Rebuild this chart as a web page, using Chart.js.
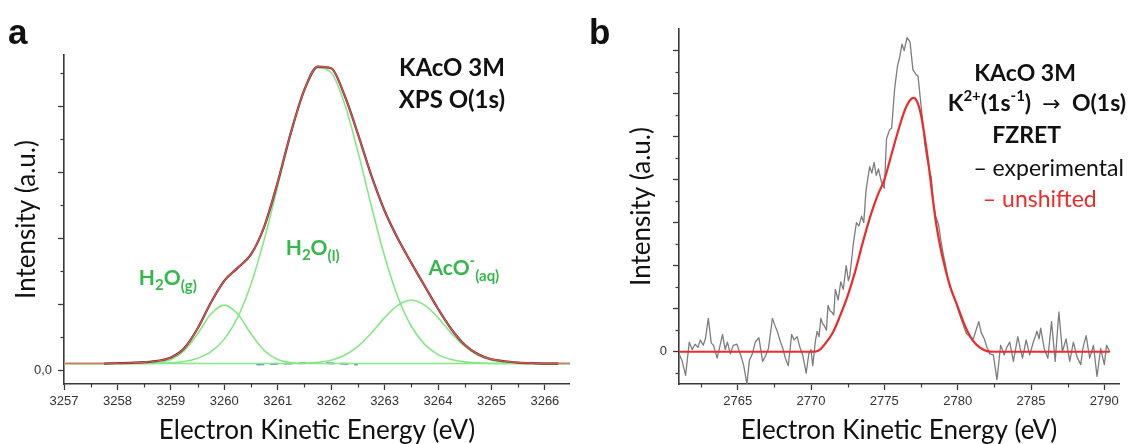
<!DOCTYPE html>
<html>
<head>
<meta charset="utf-8">
<script src="https://cdn.jsdelivr.net/npm/chart.js@4.4.0/dist/chart.umd.min.js"></script>
<style>
html, body { margin: 0; padding: 0; background: #fff; }
#wrap { position: relative; width: 1140px; height: 444px; }
.panel { position: absolute; top: 0; width: 570px; height: 444px; }
</style>
</head>
<body>
<div id="wrap">
  <div class="panel" style="left:0"><canvas id="chartA"></canvas></div>
  <div class="panel" style="left:570px"><canvas id="chartB"></canvas></div>
</div>
<script>
// ---- panel a : XPS O(1s) fit ----
const energyA = [3257, 3257.25, 3257.5, 3257.75, 3258, 3258.25, 3258.5, 3258.75, 3259, 3259.25,
  3259.5, 3259.75, 3260, 3260.25, 3260.5, 3260.75, 3261, 3261.25, 3261.5, 3261.75,
  3262, 3262.25, 3262.5, 3262.75, 3263, 3263.25, 3263.5, 3263.75, 3264, 3264.25,
  3264.5, 3264.75, 3265, 3265.25, 3265.5, 3265.75, 3266, 3266.25, 3266.5];
const fitA = [0.2, 0.2, 0.2, 0.2, 0.21, 0.22, 0.24, 0.28, 0.38, 0.66,
  1.26, 2.05, 2.71, 3.1, 3.51, 4.36, 5.7, 7.22, 8.5, 9.2,
  9.15, 8.33, 7.16, 5.91, 4.83, 3.98, 3.25, 2.55, 1.86, 1.24,
  0.77, 0.48, 0.33, 0.27, 0.23, 0.21, 0.2, 0.2, 0.2];
const waterGasA = [0.2, 0.2, 0.2, 0.2, 0.2, 0.2, 0.2, 0.23, 0.32, 0.59,
  1.1, 1.7, 1.97, 1.7, 1.1, 0.59, 0.32, 0.23, 0.2, 0.2,
  0.2, 0.2, 0.2, 0.2, 0.2, 0.2, 0.2, 0.2, 0.2, 0.2,
  0.2, 0.2, 0.2, 0.2, 0.2, 0.2, 0.2, 0.2, 0.2];
const waterLiqA = [0.2, 0.2, 0.2, 0.2, 0.2, 0.2, 0.2, 0.21, 0.22, 0.26,
  0.36, 0.56, 0.94, 1.6, 2.61, 3.97, 5.58, 7.19, 8.48, 9.16,
  9.02, 8.08, 6.63, 4.99, 3.45, 2.21, 1.33, 0.78, 0.47, 0.32,
  0.25, 0.22, 0.2, 0.2, 0.2, 0.2, 0.2, 0.2, 0.2];
const acetateA = [0.2, 0.2, 0.2, 0.2, 0.2, 0.2, 0.2, 0.2, 0.2, 0.2,
  0.2, 0.2, 0.2, 0.2, 0.2, 0.2, 0.2, 0.2, 0.21, 0.24,
  0.3, 0.45, 0.72, 1.12, 1.59, 1.97, 2.12, 1.97, 1.59, 1.12,
  0.72, 0.45, 0.3, 0.24, 0.21, 0.2, 0.2, 0.2, 0.2];
const residEnergyA = [3260.6, 3261.2, 3261.7, 3262.5];
const residA = [0.17, 0.2, 0.22, 0.17];
const xTicksA = [3257, 3258, 3259, 3260, 3261, 3262, 3263, 3264, 3265, 3266];
const xMinorA = [3257.5, 3258.5, 3259.5, 3260.5, 3261.5, 3262.5, 3263.5, 3264.5, 3265.5];
const yTicksA = [0, 2, 4, 6, 8];
const yMinorA = [1, 3, 5, 7, 9];

// ---- panel b : FZRET K2+(1s-1) -> O(1s) ----
const energyB = [2761.0, 2761.2, 2761.45, 2761.7, 2761.9, 2762.1, 2762.3, 2762.45, 2762.65, 2762.8,
  2763.0, 2763.2, 2763.35, 2763.6, 2763.8, 2763.97, 2764.15, 2764.3, 2764.5, 2764.7,
  2764.95, 2765.2, 2765.4, 2765.63, 2765.8, 2766.0, 2766.2, 2766.45, 2766.7, 2766.9,
  2767.1, 2767.37, 2767.55, 2767.7, 2767.9, 2768.1, 2768.25, 2768.45, 2768.68, 2768.85,
  2769.05, 2769.25, 2769.45, 2769.67, 2769.85, 2770.0, 2770.12, 2770.3, 2770.42, 2770.55,
  2770.67, 2770.8, 2770.91, 2771.05, 2771.16, 2771.3, 2771.41, 2771.55, 2771.66, 2771.85,
  2772.03, 2772.2, 2772.4, 2772.55, 2772.65, 2772.9, 2773.1, 2773.27, 2773.45, 2773.6,
  2773.75, 2774.0, 2774.15, 2774.3, 2774.45, 2774.6, 2774.8, 2775.0, 2775.15, 2775.35,
  2775.5, 2775.7, 2775.9, 2776.05, 2776.2, 2776.35, 2776.55, 2776.75, 2776.95, 2777.15,
  2777.3, 2777.45, 2777.6, 2777.75, 2777.9, 2778.05, 2778.2, 2778.35, 2778.5, 2778.7,
  2778.85, 2779.0, 2779.15, 2779.3, 2779.5, 2779.65, 2779.85, 2780.05, 2780.25, 2780.4,
  2780.6, 2780.83, 2781.07, 2781.25, 2781.44, 2781.6, 2781.81, 2782.0, 2782.19, 2782.43,
  2782.68, 2782.93, 2783.05, 2783.17, 2783.35, 2783.55, 2783.8, 2784.1, 2784.25, 2784.42,
  2784.67, 2784.91, 2785.16, 2785.41, 2785.55, 2785.66, 2785.9, 2786.15, 2786.4, 2786.65,
  2786.9, 2787.14, 2787.39, 2787.64, 2787.89, 2788.14, 2788.39, 2788.55, 2788.76, 2789.0,
  2789.26, 2789.5, 2789.75, 2790.0, 2790.15, 2790.37];
const experimentalB = [-0.1, -0.4, -1.1, 0.45, 0.1, 0.35, 0.2, 0.55, 0.3, 0.6,
  1.55, 0.4, 0.3, -0.3, 0.3, 0.8, 0.1, 0.45, -0.1, 0.3,
  0.35, -0.15, -0.6, -1.5, -0.4, -0.1, 0.45, 0.65, -0.45, -0.2,
  0.15, 1.55, 1.2, 0.95, 0.5, 0.1, -0.3, -0.65, 0.8, 0.55,
  0.7, 0.2, -0.2, -1.0, -0.1, 0.1, -0.65, 0.5, 0.95, 0.7,
  1.55, 1.3, 1.2, 1.0, 2.15, 1.9, 1.85, 1.7, 2.9, 2.4,
  3.25, 2.9, 4.0, 3.3, 3.55, 5.1, 6.0, 5.85, 6.3, 6.0,
  7.5, 8.6, 8.3, 8.8, 8.2, 8.5, 7.9, 7.6, 9.9, 10.3,
  10.4, 12.2, 13.3, 13.7, 14.3, 14.0, 14.6, 14.4, 13.1, 12.9,
  12.8, 11.8, 10.8, 9.7, 9.0, 8.5, 8.1, 6.9, 6.3, 5.9,
  5.2, 4.6, 4.1, 3.5, 3.0, 2.7, 2.4, 1.9, 1.5, 1.2,
  0.85, 0.7, 0.6, 1.0, 1.4, 0.9, 0.6, 0.2, -0.1, -0.15,
  -1.3, 0.3, 0.1, -0.15, 0.2, 0.45, -0.45, 0.7, 0.2, -0.3,
  0.55, -0.15, 0.45, 0.95, 0.6, 1.1, 0.15, -0.3, 1.4, -0.45,
  1.85, 0.0, 0.6, -0.45, 0.45, -0.25, -0.6, 0.2, 0.75, -0.3,
  0.3, -1.15, 0.15, -0.6, 0.3, 0.0];
const unshiftedEnergyB = [2761, 2763, 2765, 2767, 2769, 2770, 2770.5, 2771, 2771.5, 2772,
  2772.5, 2773, 2773.5, 2774, 2774.5, 2775, 2775.5, 2776, 2776.5, 2777,
  2777.25, 2777.5, 2777.75, 2778, 2778.25, 2778.5, 2778.75, 2779, 2779.5, 2780,
  2780.5, 2781, 2781.5, 2782, 2782.5, 2785, 2788, 2790.37];
const unshiftedB = [0, 0, 0, 0, 0, 0, 0.05, 0.4, 0.9, 1.7,
  2.6, 3.7, 5.0, 6.2, 7.2, 8.0, 9.2, 10.4, 11.4, 11.8,
  11.6, 11.0, 10.0, 8.8, 7.4, 6.1, 5.1, 4.3, 3.0, 2.1,
  1.2, 0.55, 0.2, 0.03, 0, 0, 0, 0];
const xTicksB = [2765, 2770, 2775, 2780, 2785, 2790];
const xMinorB = [2762.5, 2767.5, 2772.5, 2777.5, 2782.5, 2787.5];
const yTicksB = [0, 2, 4, 6, 8, 10, 12, 14];
const yMinorB = [-1, 1, 3, 5, 7, 9, 11, 13];

const pts = (xs, ys) => xs.map((x, i) => ({ x: x, y: ys[i] }));
const AXIS = '#3a3a3a';
const GREEN = '#84e884';

// small ticks between the labelled ones
const minorTicks = {
    id: 'minorTicks',
    afterDraw(chart, args, opts) {
        const ctx = chart.ctx;
        const area = chart.chartArea;
        ctx.save();
        ctx.strokeStyle = AXIS;
        ctx.lineWidth = 1.2;
        (opts.x || []).forEach(v => {
            const px = Math.round(chart.scales.x.getPixelForValue(v)) + 0.5;
            ctx.beginPath();
            ctx.moveTo(px, area.bottom);
            ctx.lineTo(px, area.bottom + 3.5);
            ctx.stroke();
        });
        (opts.y || []).forEach(v => {
            const py = Math.round(chart.scales.y.getPixelForValue(v)) + 0.5;
            ctx.beginPath();
            ctx.moveTo(area.left, py);
            ctx.lineTo(area.left - 3.5, py);
            ctx.stroke();
        });
        ctx.restore();
    }
};

// text notes with sub/superscripts, anchored in data units
const notes = {
    id: 'notes',
    afterDraw(chart, args, opts) {
        const ctx = chart.ctx;
        ctx.save();
        ctx.textBaseline = 'alphabetic';
        ctx.textAlign = 'left';
        const fontOf = r => (r.bold ? 'bold ' : '') + r.size + 'px ' + (r.family || 'Lato, "DejaVu Sans", sans-serif');
        (opts.items || []).forEach(item => {
            let w = 0;
            item.runs.forEach(r => { ctx.font = fontOf(r); r.w = ctx.measureText(r.t).width; w += r.w; });
            let x = chart.scales.x.getPixelForValue(item.x);
            const y = chart.scales.y.getPixelForValue(item.y);
            if (item.align === 'center') x -= w / 2;
            item.runs.forEach(r => {
                ctx.font = fontOf(r);
                ctx.fillStyle = r.color || item.color;
                ctx.fillText(r.t, x, y + (r.dy || 0));
                x += r.w;
            });
        });
        if (opts.letter) {
            ctx.font = 'bold 35px "Liberation Sans", Arial, sans-serif';
            ctx.fillStyle = '#111';
            ctx.fillText(opts.letter.t, opts.letter.x, opts.letter.y);
        }
        ctx.restore();
    }
};

function axisX(min, max, ticks) {
    return {
        type: 'linear', min: min, max: max,
        afterFit: s => { s.height = 60; },
        afterBuildTicks: s => { s.ticks = ticks.map(v => ({ value: v })); },
        ticks: { autoSkip: false, maxRotation: 0, padding: 4, color: '#333',
                 font: { family: '"Liberation Sans", Arial, sans-serif', size: 13 }, callback: v => String(v) },
        grid: { drawOnChartArea: false, drawTicks: true, tickLength: 6, tickWidth: 1.3, tickColor: AXIS },
        border: { display: true, color: AXIS, width: 1.6 },
        title: { display: true, text: 'Electron Kinetic Energy (eV)', color: '#111',
                 font: { family: 'Lato', size: 26, lineHeight: 1 }, padding: { top: 0, bottom: 0 } }
    };
}

function axisY(min, max, ticks, width, titlePad, zeroLabel) {
    return {
        type: 'linear', min: min, max: max,
        afterFit: s => { s.width = width; },
        afterBuildTicks: s => { s.ticks = ticks.map(v => ({ value: v })); },
        ticks: { autoSkip: false, padding: 6, color: '#333',
                 font: { family: '"Liberation Sans", Arial, sans-serif', size: 13 },
                 callback: v => (v === 0 ? zeroLabel : '') },
        grid: { drawOnChartArea: false, drawTicks: true, tickLength: 6, tickWidth: 1.3, tickColor: AXIS },
        border: { display: true, color: AXIS, width: 1.6 },
        title: { display: true, text: 'Intensity (a.u.)', color: '#111',
                 font: { family: 'Lato', size: 26, lineHeight: 1 }, padding: { top: titlePad, bottom: 0 } }
    };
}

const line = { pointRadius: 0, fill: false, borderJoinStyle: 'round', cubicInterpolationMode: 'monotone' };
const gText = '#35b84b';

new Chart(document.getElementById('chartA'), {
    type: 'line',
    data: {
        datasets: [
            { ...line, data: pts(energyA, fitA), borderColor: 'rgba(238, 92, 92, 0.85)', borderWidth: 1.4 },
            { ...line, data: pts(energyA.slice(3, 38), fitA.slice(3, 38)), borderColor: '#5a2626', borderWidth: 2.2 },
            { ...line, data: pts(energyA, waterGasA), borderColor: GREEN, borderWidth: 1.6 },
            { ...line, data: pts(energyA, waterLiqA), borderColor: GREEN, borderWidth: 1.6 },
            { ...line, data: pts(energyA, acetateA), borderColor: GREEN, borderWidth: 1.6 },
            { ...line, data: pts(residEnergyA, residA), borderColor: '#6d92c6', borderWidth: 2, borderDash: [8, 6] },
        ],
    },
    options: {
        responsive: true, maintainAspectRatio: false, animation: false, devicePixelRatio: 1,
        layout: { padding: { left: 0, top: 55, right: 0, bottom: 0 } },
        plugins: {
            legend: { display: false }, tooltip: { enabled: false },
            minorTicks: { x: xMinorA, y: yMinorA },
            notes: {
                letter: { t: 'a', x: 8, y: 44 },
                items: [
                    { x: 3264.26, y: 8.9, align: 'center', color: '#111', runs: [{ t: 'KAcO 3M', size: 24, bold: true }] },
                    { x: 3264.26, y: 7.95, align: 'center', color: '#111', runs: [{ t: 'XPS O(1s)', size: 24, bold: true }] },
                    { x: 3258.4, y: 2.58, color: gText, runs: [
                        { t: 'H', size: 21, bold: true }, { t: '2', size: 15, bold: true, dy: 5 },
                        { t: 'O', size: 21, bold: true }, { t: '(g)', size: 15, bold: true, dy: 6 }] },
                    { x: 3261.15, y: 3.48, color: gText, runs: [
                        { t: 'H', size: 21, bold: true }, { t: '2', size: 15, bold: true, dy: 5 },
                        { t: 'O', size: 21, bold: true }, { t: '(l)', size: 15, bold: true, dy: 6 }] },
                    { x: 3263.82, y: 2.88, color: gText, runs: [
                        { t: 'AcO', size: 21, bold: true }, { t: '-', size: 15, bold: true, dy: -9 },
                        { t: '(aq)', size: 15, bold: true, dy: 6 }] },
                ],
            },
        },
        scales: {
            x: axisX(3257, 3266.47, xTicksA),
            y: axisY(-0.42, 9.55, yTicksA, 64, 14, '0,0'),
        },
    },
    plugins: [minorTicks, notes],
});

new Chart(document.getElementById('chartB'), {
    type: 'line',
    data: {
        datasets: [
            { ...line, data: pts(unshiftedEnergyB, unshiftedB), borderColor: '#ef2a2a', borderWidth: 2.2 },
            { ...line, cubicInterpolationMode: 'default', tension: 0, data: pts(energyB, experimentalB),
              borderColor: '#7d7d7d', borderWidth: 1.3 },
        ],
    },
    options: {
        responsive: true, maintainAspectRatio: false, animation: false, devicePixelRatio: 1,
        layout: { padding: { left: 0, top: 29, right: 21, bottom: 0 } },
        plugins: {
            legend: { display: false }, tooltip: { enabled: false },
            minorTicks: { x: xMinorB, y: yMinorB },
            notes: {
                letter: { t: 'b', x: 19, y: 44 },
                items: [
                    { x: 2784.6, y: 12.6, align: 'center', color: '#111', runs: [{ t: 'KAcO 3M', size: 23, bold: true }] },
                    { x: 2785.4, y: 11.2, align: 'center', color: '#111', runs: [
                        { t: 'K', size: 23, bold: true }, { t: '2+', size: 15, bold: true, dy: -10 },
                        { t: '(1s', size: 23, bold: true }, { t: '-1', size: 15, bold: true, dy: -10 },
                        { t: ')  ', size: 23, bold: true }, { t: '\u2192', size: 22, family: '"DejaVu Sans", sans-serif' },
                        { t: '  O(1s)', size: 23, bold: true }] },
                    { x: 2784.7, y: 9.68, align: 'center', color: '#111', runs: [{ t: 'FZRET', size: 23, bold: true }] },
                    { x: 2786.2, y: 8.15, align: 'center', color: '#111', runs: [{ t: '\u2013 experimental', size: 23 }] },
                    { x: 2785.6, y: 6.71, align: 'center', color: '#ef2a2a', runs: [{ t: '\u2013 unshifted', size: 23 }] },
                ],
            },
        },
        scales: {
            x: axisX(2761, 2791, xTicksB),
            y: axisY(-1.5, 15, yTicksB, 109, 59, '0'),
        },
    },
    plugins: [minorTicks, notes],
});
</script>
</body>
</html>
